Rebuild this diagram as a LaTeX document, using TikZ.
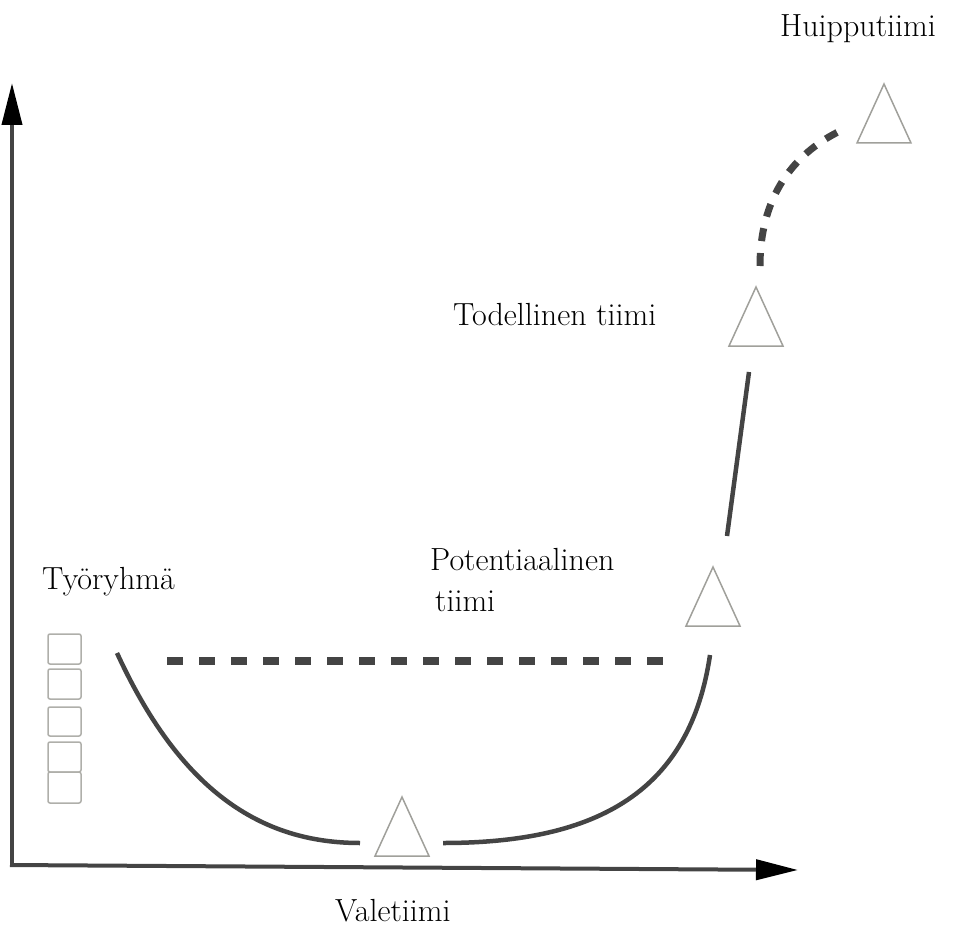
\documentclass[tikz,border=0pt]{standalone}
\usepackage{fontspec}
\usetikzlibrary{arrows.meta}
\definecolor{darkline}{RGB}{68,68,68}
\definecolor{trigray}{RGB}{160,160,155}
\definecolor{boxgray}{RGB}{175,175,170}
\tikzset{
  axisline/.style={line width=4pt, draw=darkline, -{Triangle[length=42pt,width=20pt,color=black]}},
  curveline/.style={line width=4.5pt, draw=darkline},
  dashline/.style={line width=8pt, draw=darkline, dash pattern=on 16pt off 16pt},
  dashcurve/.style={line width=7pt, draw=darkline, dash pattern=on 13pt off 12pt},
  tristyle/.style={draw=trigray, line width=1.5pt, fill=white},
  boxstyle/.style={draw=boxgray, line width=1.5pt, rounded corners=2pt},
  label/.style={font=\fontsize{32}{41}\selectfont, inner sep=0pt, text=black},
  tri/.pic={\draw[tristyle] (-27,0) -- (27,0) -- (0,-59) -- cycle;}
}
\begin{document}
\begin{tikzpicture}[x=1pt,y=-1pt]
\useasboundingbox (0,0) rectangle (961,928);
% axes
\coordinate (origin) at (12,866);
\coordinate (ytip) at (12,83);
\coordinate (xorigin) at (10,865);
\coordinate (xtip) at (798,870);
\draw[axisline] (origin) -- (ytip);
\draw[axisline] (xorigin) -- (xtip);
% squares (Työryhmä)
\draw[boxstyle] (48,634) rectangle (81,664);
\draw[boxstyle] (48,669) rectangle (81,699);
\draw[boxstyle] (48,707) rectangle (81,736);
\draw[boxstyle] (48,742) rectangle (81,772);
\draw[boxstyle] (48,772) rectangle (81,803);
% triangles
\coordinate (valeT) at (402,856);
\coordinate (potT) at (713,626);
\coordinate (todT) at (756,346);
\coordinate (huipT) at (884,143);
\pic at (valeT) {tri};
\pic at (potT) {tri};
\pic at (todT) {tri};
\pic at (huipT) {tri};
% connector end points
\coordinate (uLstart) at (117,653);
\coordinate (uLend) at (360,843);
\coordinate (uRstart) at (443,843);
\coordinate (uRend) at (710,655);
\coordinate (dStart) at (167,661);
\coordinate (dEnd) at (663,661);
\coordinate (sStart) at (727,536);
\coordinate (sEnd) at (749,372);
\coordinate (cStart) at (760,266);
\coordinate (cEnd) at (842,130);
% connectors
\draw[curveline] (uLstart) .. controls (180,790) and (260,843) .. (uLend);
\draw[curveline] (uRstart) .. controls (600,843) and (690,790) .. (uRend);
\draw[dashline] (dStart) -- (dEnd);
\draw[curveline] (sStart) -- (sEnd);
\draw[dashcurve] (cStart) .. controls (760,190) and (800,150) .. (cEnd);
% labels
\node[label, anchor=base west] (huip) at (780,37) {Huipputiimi};
\node[label, anchor=base west] (tod) at (453,325) {Todellinen tiimi};
\node[label, anchor=north west, align=left] (pot) at (430,547.8) {Potentiaalinen\\\hspace{5pt}tiimi};
\node[label, anchor=base west] (tyo) at (42,589) {Työryhmä};
\node[label, anchor=base west] (vale) at (335,921) {Valetiimi};
\end{tikzpicture}
\end{document}
